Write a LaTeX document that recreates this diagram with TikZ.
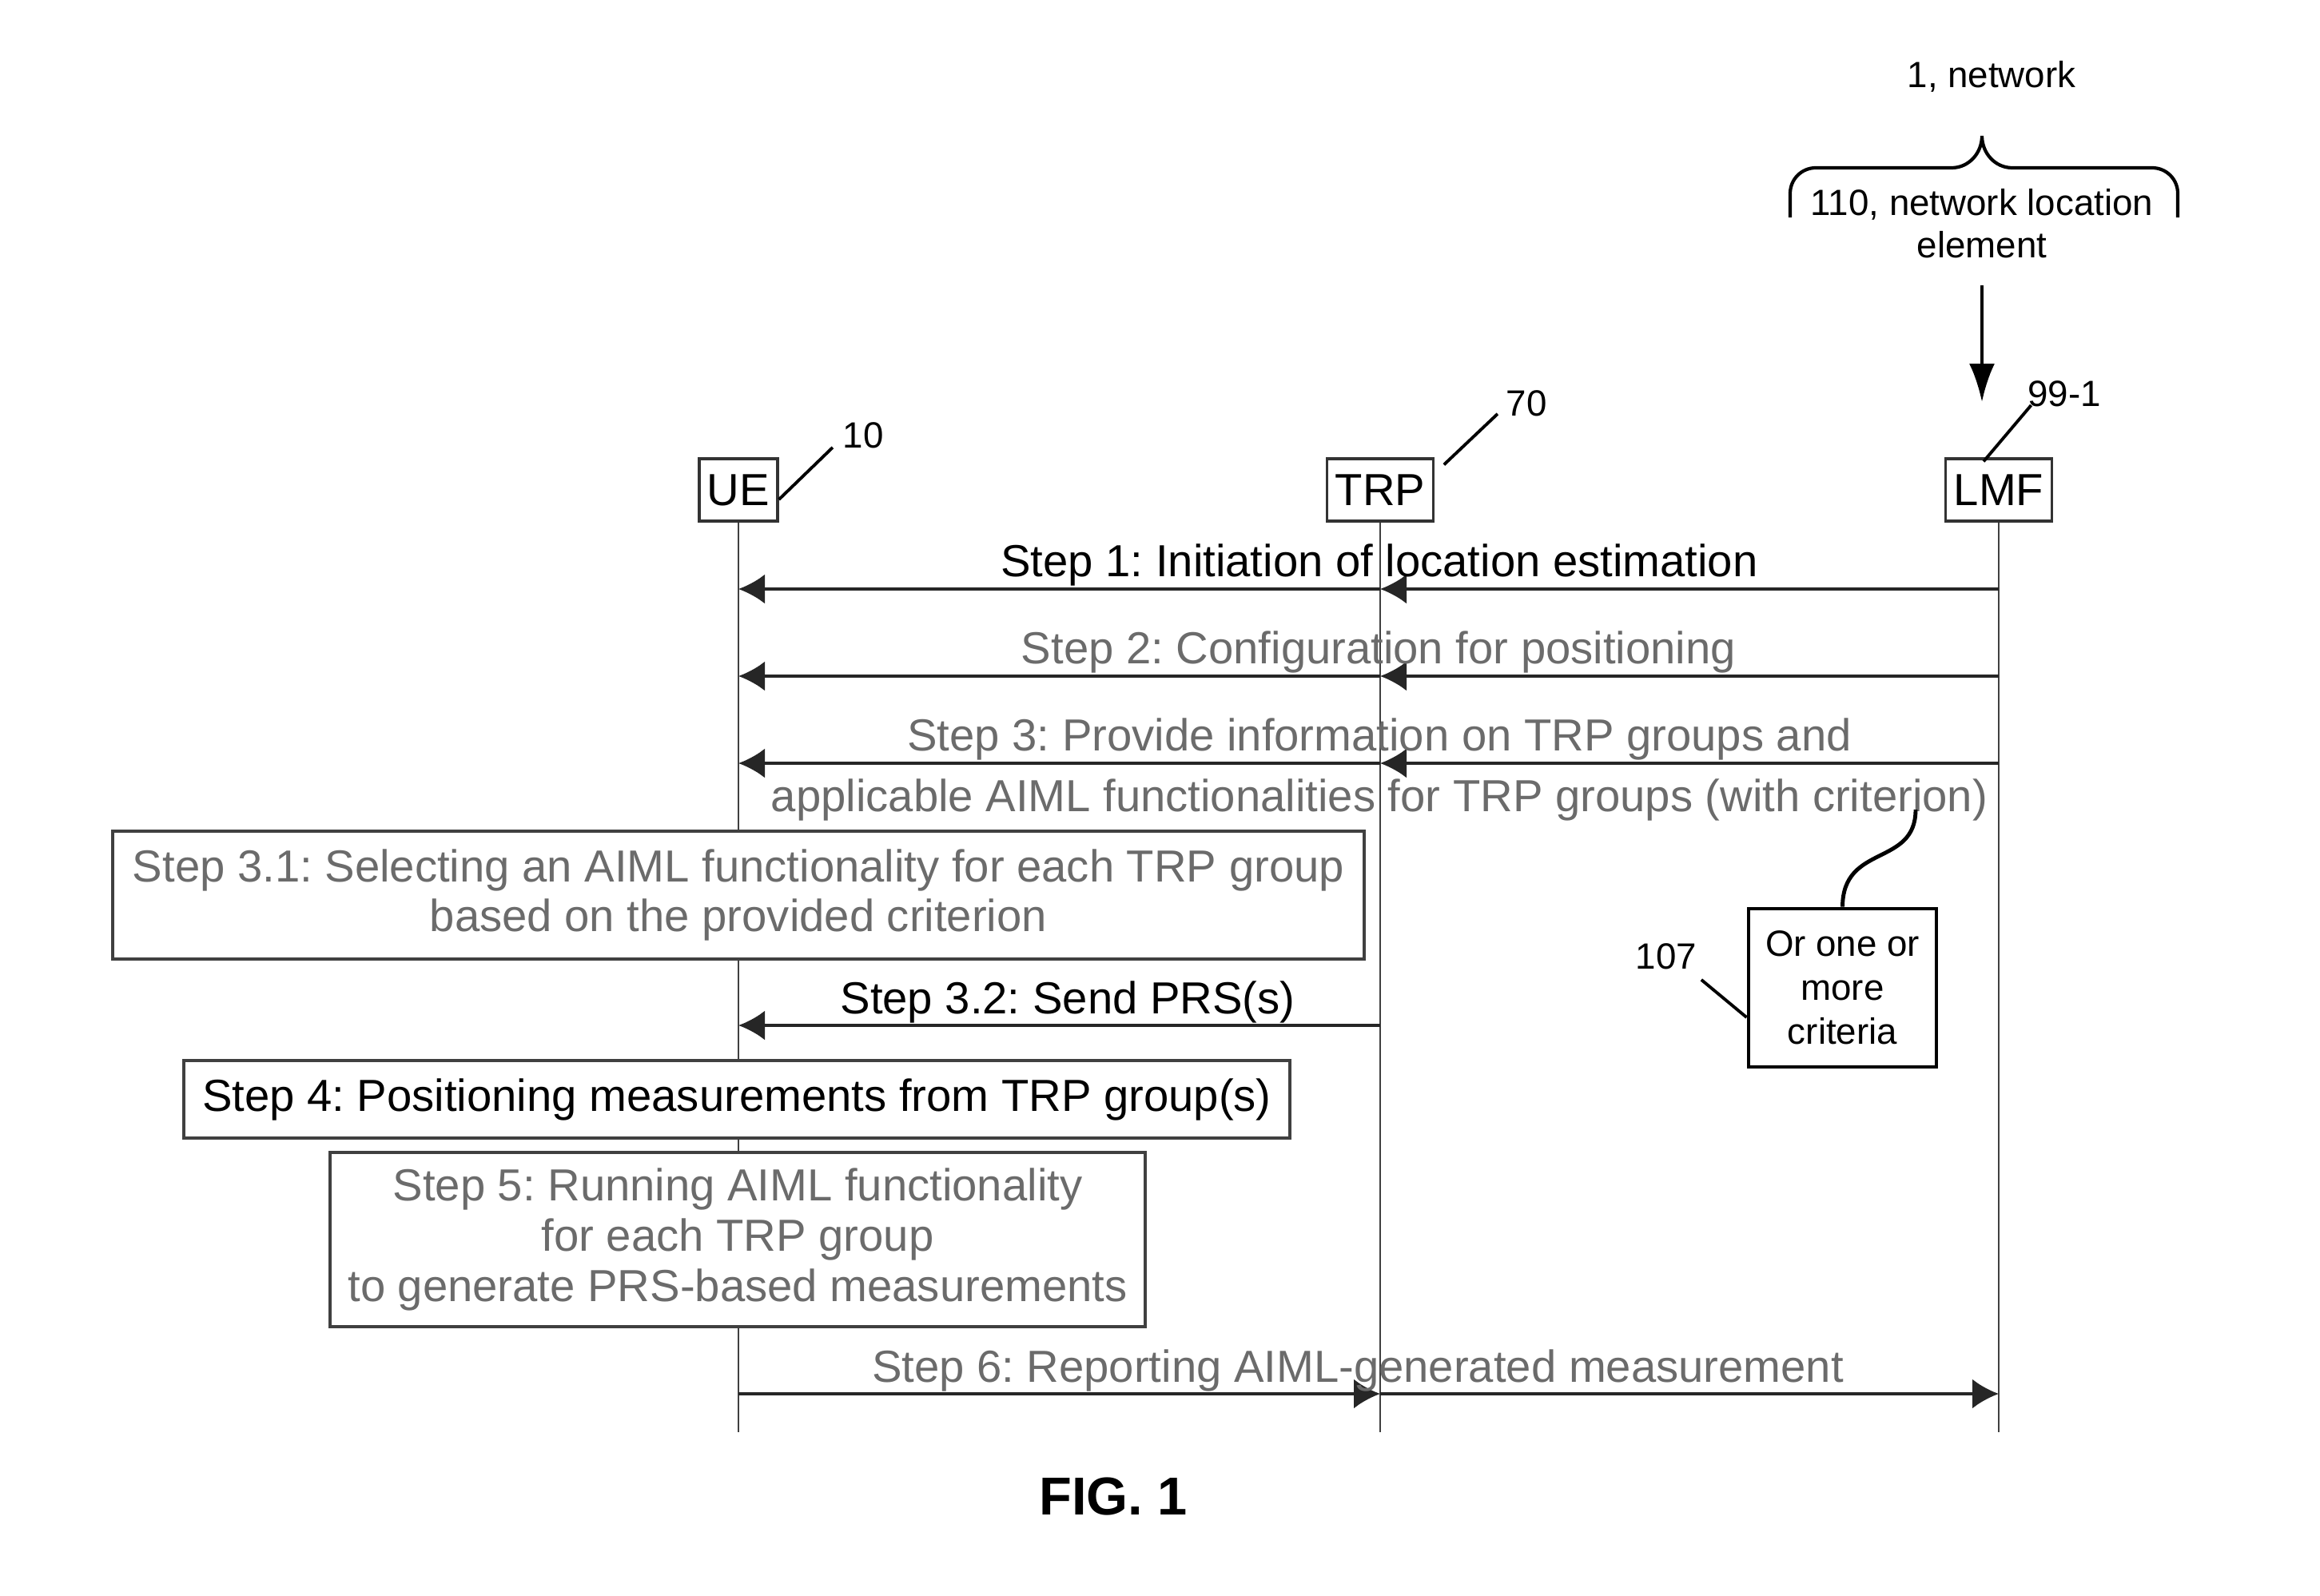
\documentclass[tikz,border=0pt]{standalone}
\usepackage{fontspec}
\setmainfont{Liberation Sans}
\usetikzlibrary{arrows.meta}
\usetikzlibrary{positioning}

\colorlet{faded}{black!58}
\frenchspacing

\begin{document}
\begin{tikzpicture}[
    entity/.style={draw=black!80,line width=0.9pt,minimum height=7.8mm,inner xsep=1mm,font=\fontsize{16}{18}\selectfont},
    lifeline/.style={draw=black!75,line width=0.6pt},
    msg/.style={draw=black!85,line width=1pt,-{Latex[length=3.3mm,width=3.7mm]}},
    steplabel/.style={inner sep=0pt,align=center,font=\fontsize{16}{17.5}\selectfont},
    stepbox/.style={draw=black!75,line width=0.9pt,fill=white,align=center,font=\fontsize{16}{17.8}\selectfont},
    refnum/.style={inner sep=0pt,align=center,font=\fontsize{13}{15}\selectfont},
    leader/.style={line width=1.1pt},
  ]
  \useasboundingbox (0,0) rectangle (29.03,-19.97);

  \node[refnum] (net) at (24.92,-0.96) {1, network};
  \draw[line width=1.2pt] (22.40,-2.72) -- (22.40,-2.42) to[out=90,in=180] (22.72,-2.10) -- (24.42,-2.10)
    to[out=0,in=-90] (24.80,-1.70) to[out=-90,in=180] (25.18,-2.10) -- (26.93,-2.10) to[out=0,in=90] (27.25,-2.42) -- (27.25,-2.72);
  \node[refnum] (nle) at (24.80,-2.80) {110, network location\\element};
  \coordinate (nle-from) at (24.80,-3.57);
  \coordinate (nle-to) at (24.80,-5.03);
  \draw[line width=1.3pt,-{Latex[length=4.8mm,width=3.2mm]}] (nle-from) -- (nle-to);

  \node[entity] (ue) at (9.24,-6.13) {UE};
  \node[entity] (trp) at (17.27,-6.13) {TRP};
  \node[entity] (lmf) at (25.01,-6.13) {LMF};

  \node[refnum] (ue-ref) at (10.80,-5.45) {10};
  \node[refnum] (trp-ref) at (19.10,-5.05) {70};
  \node[refnum] (lmf-ref) at (25.83,-4.93) {99-1};
  \draw[leader] ([yshift=-0.12cm]ue.east) -- ([shift={(-0.12,0.02)}]ue-ref.south west);
  \draw[leader] ([shift={(0.12,-0.09)}]trp.north east) -- ([shift={(-0.10,0.04)}]trp-ref.south west);
  \draw[leader] ([xshift=-0.19cm,yshift=-0.05cm]lmf.north) -- ([shift={(0.05,-0.14)}]lmf-ref.west);

  \coordinate (bottom) at (0,-17.92);
  \draw[lifeline] (ue.south) -- (ue.south |- bottom);
  \draw[lifeline] (trp.south) -- (trp.south |- bottom);
  \draw[lifeline] (lmf.south) -- (lmf.south |- bottom);

  \coordinate (m1) at (0,-7.37);
  \coordinate (m2) at (0,-8.46);
  \coordinate (m3) at (0,-9.55);
  \coordinate (m32) at (0,-12.83);
  \coordinate (m6) at (0,-17.44);

  \draw[msg] (lmf |- m1) -- (trp |- m1);
  \draw[msg] (trp |- m1) -- (ue |- m1);
  \node[steplabel] (l1) at (17.26,-7.07) {Step 1: Initiation of location estimation};

  \draw[msg] (lmf |- m2) -- (trp |- m2);
  \draw[msg] (trp |- m2) -- (ue |- m2);
  \node[steplabel,text=faded] (l2) at (17.25,-8.16) {Step 2: Configuration for positioning};

  \draw[msg] (lmf |- m3) -- (trp |- m3);
  \draw[msg] (trp |- m3) -- (ue |- m3);
  \node[steplabel,text=faded] (l3) at (17.26,-9.63) {Step 3: Provide information on TRP groups and\\[4pt]applicable AIML functionalities for TRP groups (with criterion)};

  \node[stepbox,text=faded,minimum width=15.66cm,minimum height=1.6cm] (s31) at (9.24,-11.20)
    {Step 3.1: Selecting an AIML functionality for each TRP group\\based on the provided criterion};

  \draw[msg] (trp |- m32) -- (ue |- m32);
  \node[steplabel] (l32) at (13.36,-12.54) {Step 3.2: Send PRS(s)};

  \node[stepbox,minimum width=13.84cm,minimum height=0.97cm] (s4) at (9.22,-13.755)
    {Step 4: Positioning measurements from TRP group(s)};

  \node[stepbox,text=faded,minimum width=10.2cm,minimum height=2.18cm] (s5) at (9.23,-15.51)
    {Step 5: Running AIML functionality\\for each TRP group\\to generate PRS-based measurements};

  \draw[msg] (ue |- m6) -- (trp |- m6);
  \draw[msg] (trp |- m6) -- (lmf |- m6);
  \node[steplabel,text=faded] (l6) at (16.99,-17.15) {Step 6: Reporting AIML-generated measurement};

  \node[draw,line width=1.4pt,minimum width=2.35cm,minimum height=1.98cm,align=center,font=\fontsize{13}{15.6}\selectfont] (crit) at (23.055,-12.36) {Or one or\\more\\criteria};
  \coordinate (crit-src) at (23.97,-10.13);
  \draw[line width=1.4pt] (crit-src) .. controls (23.97,-10.85) and (23.06,-10.55) .. (crit.north);
  \node[refnum] (crit-ref) at (20.85,-11.97) {107};
  \draw[leader] ([shift={(0.05,-0.12)}]crit-ref.south east) -- ([yshift=-0.37cm]crit.west);

  \node[font=\bfseries\fontsize{19}{22}\selectfont] (fig) at (13.93,-18.72) {FIG. 1};
\end{tikzpicture}
\end{document}
